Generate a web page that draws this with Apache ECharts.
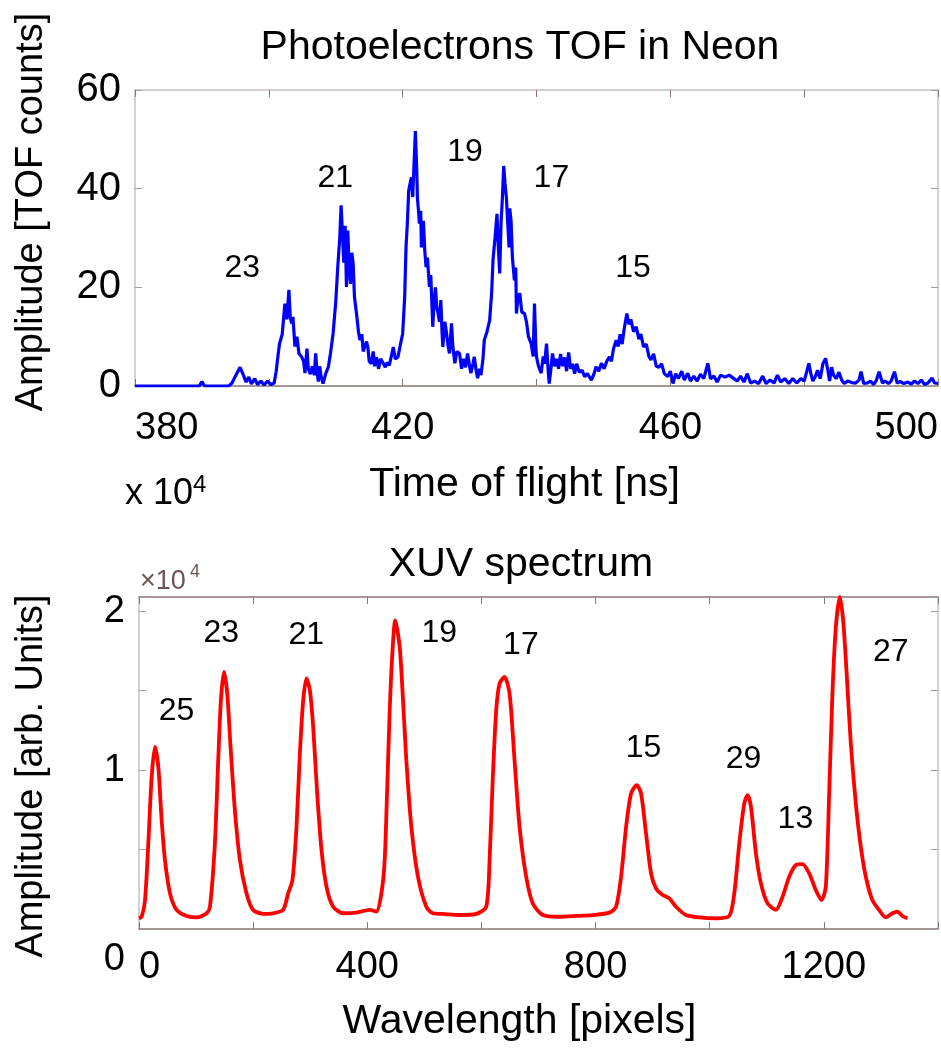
<!DOCTYPE html>
<html>
<head>
<meta charset="utf-8">
<script src="https://cdn.jsdelivr.net/npm/echarts@6/dist/echarts.min.js"></script>
<style>
  html, body { margin: 0; padding: 0; background: #fff; }
  #chart { width: 941px; height: 1050px; }
</style>
</head>
<body>
<div id="chart"></div>
<script>
// ---------- Top panel: photoelectron TOF in neon ----------
const tofTime = [380,384,388,389.6,390,390.4,394,394.5,395,395.7,396.2,396.6,397,397.4,397.9,398.3,398.8,399.3,399.8,400.3,400.8,
  401.1,401.4,401.6,402,402.4,402.7,403,403.2,403.4,403.6,403.9,404.2,404.5,404.9,405.2,405.4,405.7,405.9,406.2,406.5,406.8,407,407.2,407.4,407.6,407.8,408.1,408.5,408.9,409.2,409.6,410,410.3,410.6,
  410.8,411,411.2,411.4,411.6,411.8,412,412.2,412.4,412.6,412.8,413.1,413.4,413.6,413.9,414.1,414.3,414.6,414.8,415,415.3,415.6,415.8,416.1,416.4,416.7,417.1,417.4,417.7,418,418.3,418.6,418.9,419.3,419.6,
  420,420.3,420.5,420.7,420.9,421.1,421.3,421.5,421.7,421.9,422.1,422.2,422.4,422.5,422.7,422.8,423,423.1,423.3,423.5,423.7,424,424.2,424.5,424.7,424.9,425.1,425.3,425.5,425.7,425.9,426,426.3,426.5,426.8,
  427,427.3,427.5,427.8,428.1,428.5,428.8,429.1,429.4,429.7,430,430.2,430.5,430.7,431,431.2,431.5,431.7,432,432.2,432.6,433,433.3,433.5,433.8,434.1,434.3,434.5,434.7,434.9,435.1,435.3,435.5,435.7,435.9,
  436,436.2,436.4,436.7,436.9,437,437.2,437.5,437.8,438.2,438.5,438.8,439,439.2,439.5,439.7,439.9,440,440.3,440.7,441,441.2,441.5,441.7,441.9,442.2,442.4,442.7,443,443.3,443.6,443.9,444.2,444.5,444.8,
  445.1,445.4,445.7,446,446.4,446.8,447.2,447.6,448.2,448.6,448.9,449.3,449.7,450.1,450.5,450.9,451.2,451.5,451.9,452.2,452.5,452.8,453.1,453.5,453.8,454.1,454.5,454.9,455.3,455.6,456,456.4,456.8,
  457.1,457.5,457.9,458.3,458.7,459.1,459.6,460,460.4,460.8,461.2,461.7,462.1,462.6,463,463.5,464,464.5,465,465.6,466,466.5,467,467.5,468.2,468.8,469.5,470,470.5,471,471.5,472,472.6,473.2,473.8,
  474.3,474.9,475.5,476,476.5,477.1,477.7,478.3,478.9,479.5,480,480.4,480.7,481,481.3,481.7,482,482.4,482.8,483.2,483.5,483.8,484.1,484.4,484.8,485.2,485.6,486,486.5,487.1,487.7,488.2,488.5,488.9,
  489.4,489.9,490.4,490.8,491.2,491.7,492.1,492.6,493,493.5,493.9,494.4,494.9,495.5,496,496.5,497,497.5,498,498.5,499.1,499.5,500];
const tofCounts = [0,0,0,0,0.9,0,0,0.6,2.0,3.8,2.2,0.8,1.8,0.4,1.5,0.3,1.0,0.2,1.0,0.3,0.6,
  3.0,6.5,8.6,10.5,16.7,13.5,19.5,14.0,12.7,14.0,8.0,10.0,6.6,5.9,5.0,2.6,7.6,3.5,2.4,4.0,2.2,6.6,3.0,0.9,4.0,2.0,0.5,2.5,3.9,6.5,10.6,17.0,24.1,30.0,
  36.6,31.0,25.0,32.5,20.1,31.5,24.0,20.7,27.0,24.8,18.0,14.7,11.0,9.3,10.5,7.0,6.6,9.0,7.9,5.0,4.5,7.0,4.0,5.9,3.5,5.5,4.6,3.8,4.8,4.2,6.0,7.9,5.5,5.9,8.0,
  10.6,18.0,28.1,33.0,39.6,40.0,42.3,38.3,45.0,51.7,44.0,38.2,35.0,32.9,35.5,28.1,30.5,33.5,27.5,24.1,26.0,20.1,22.5,12.0,17.0,20.0,16.0,14.7,13.0,17.4,10.5,7.9,13.0,11.3,8.0,
  6.6,12.7,8.0,4.6,7.0,6.6,3.5,5.5,3.8,6.6,4.0,2.6,4.5,5.9,3.0,1.6,3.5,2.2,5.5,9.3,11.0,13.3,19.0,25.5,30.0,34.9,28.0,22.8,33.0,38.0,44.6,41.0,38.2,33.0,28.1,
  36.0,33.5,26.0,21.4,24.0,14.7,17.5,18.8,15.0,14.7,13.0,10.0,9.3,8.6,6.0,16.7,8.0,5.9,4.0,2.6,6.0,4.5,8.6,4.0,0.5,4.0,6.6,4.0,5.5,3.5,6.5,4.0,5.8,3.0,6.8,
  3.5,4.5,2.5,4.5,2.8,3.2,1.9,2.5,1.2,2.5,3.9,3.0,4.6,3.5,5.0,5.9,5.0,7.5,9.3,8.0,10.5,8.5,11.5,14.7,12.5,13.5,11.0,12.0,9.5,10.5,7.9,8.5,6.0,
  5.3,6.5,4.0,3.8,4.5,2.5,1.9,3.0,0.5,2.5,1.5,3.0,1.2,2.6,1.0,2.0,1.0,2.4,1.5,4.6,1.5,2.0,0.8,2.2,1.8,2.2,1.5,1.0,2.0,0.8,2.5,0.6,1.0,0.5,2.0,
  0.5,1.2,0.6,2.2,0.8,1.5,0.5,1.5,0.6,1.5,1.0,3.0,4.6,2.5,1.0,2.0,3.2,1.5,4.5,5.6,3.5,1.0,3.8,2.2,1.5,2.8,1.2,0.5,1.0,0.7,0.6,1.2,2.9,0.5,
  0.6,1.0,0.3,1.2,2.9,0.6,1.0,0.5,1.0,2.9,0.6,0.9,0.5,0.8,0.4,1.0,0.5,1.2,0.3,0.6,1.6,0.6,0.5];
const tofXTicks = [380, 420, 460, 500];
const tofYTicks = [0, 20, 40, 60];
const tofLabelText = ['23', '21', '19', '17', '15'];
const tofLabelX = [396.1, 410.0, 429.4, 442.3, 454.5];
const tofLabelY = [23.8, 42.0, 47.3, 42.0, 23.8];

// ---------- Bottom panel: XUV spectrum (amplitude in units of 1e4) ----------
const xuvPixel = [0,4.7,10.5,16.3,22.2,28,33.8,39.7,45.5,54.3,65.9,83.4,101,118.4,
  124.3,133,138.8,143.5,148.8,154.6,160.4,168,176.8,188.4,200,217.6,235,252.6,
  261.3,268.9,276,281.9,287.7,293.5,299.4,305.2,312.2,319.8,328.5,340.2,357.7,381,404.3,416,
  424.7,430.5,434.6,439.3,443.9,449,456.8,462.6,468.4,477.2,488.8,503.4,515,532.6,561.8,590.9,608.4,
  614.3,620,625.9,631.8,640.5,649.3,658,666.8,678.4,690,707.6,736.8,765.9,795,824.3,835.9,
  844.7,853.5,862.2,872.1,879.7,888.4,897.2,905.9,917.6,929.3,940.9,958.4,981.8,1010.9,1034.3,
  1043,1051.8,1060.5,1066.3,1072.2,1081,1089.7,1101.4,1116,
  1127.6,1139.3,1150.9,1162.6,1174.3,1185.9,1195.8,
  1203.4,1209.3,1215,1221,1228,1233.8,1239.6,1247.2,1256,1264.7,1273.5,1285,1296.8,1308.4,1320,1328.8,1337.5,1346.3];
const xuvAmp = [0.067,0.077,0.18,0.539,0.958,1.146,1.021,0.686,0.434,0.224,0.12,0.082,0.073,0.099,
  0.14,0.539,1.063,1.44,1.618,1.482,1.146,0.748,0.434,0.224,0.12,0.095,0.099,0.12,
  0.224,0.308,0.644,1.105,1.44,1.577,1.503,1.272,0.853,0.497,0.266,0.14,0.099,0.103,0.12,0.11,
  0.224,0.434,0.853,1.377,1.734,1.943,1.775,1.44,1.063,0.644,0.329,0.14,0.099,0.095,0.088,0.095,0.14,
  0.434,0.958,1.377,1.545,1.587,1.482,1.063,0.644,0.329,0.161,0.088,0.077,0.082,0.088,0.103,0.14,
  0.329,0.644,0.853,0.906,0.853,0.602,0.35,0.256,0.214,0.193,0.14,0.088,0.073,0.067,0.082,
  0.224,0.539,0.79,0.843,0.77,0.476,0.287,0.161,0.12,
  0.203,0.329,0.403,0.409,0.35,0.245,0.182,
  0.266,0.853,1.482,1.901,2.09,1.943,1.629,1.168,0.79,0.518,0.329,0.182,0.12,0.073,0.099,0.11,0.082,0.067];
const xuvXTicks = [0, 400, 800, 1200];
const xuvYTicks = [0, 1, 2];
const xuvLabelText = ['25', '23', '21', '19', '17', '15', '29', '13', '27'];
const xuvLabelX = [66.5, 145, 294, 527, 670, 885, 1060, 1151, 1318];
const xuvLabelY = [1.365, 1.862, 1.849, 1.862, 1.786, 1.138, 1.063, 0.686, 1.742];

// ---------- build ----------
const FONT = '"Liberation Sans", Arial, Helvetica, sans-serif';
const frameDark = '#8a7777';
const frameLight = '#c9c0c0';
const zip = (a, b) => a.map((v, i) => [v, b[i]]);
const zip3 = (a, b, c) => a.map((v, i) => [v, b[i], c[i]]);

function mainX(grid, min, max, interval, ticks, name, nameGap, namePad, labelMargin) {
  return {
    type: 'value', gridIndex: grid, position: 'bottom', min, max, interval,
    name, nameLocation: 'middle', nameGap,
    nameTextStyle: { fontFamily: FONT, fontSize: 41, color: '#000', padding: namePad },
    axisLine: { show: true, onZero: false, lineStyle: { color: frameDark, width: 1.5 } },
    axisTick: { show: true, inside: true, length: 7, lineStyle: { color: frameDark } },
    splitLine: { show: false },
    axisLabel: {
      fontFamily: FONT, fontSize: 38, color: '#000', margin: labelMargin,
      showMinLabel: true, showMaxLabel: true,
      alignMinLabel: 'left', alignMaxLabel: 'right',
      formatter: v => ticks.indexOf(v) >= 0 ? String(v) : ''
    }
  };
}
function mirrorX(grid, min, max, interval, color) {
  return {
    type: 'value', gridIndex: grid, position: 'top', min, max, interval,
    axisLine: { show: true, onZero: false, lineStyle: { color, width: 1.5 } },
    axisTick: { show: true, inside: true, length: 7, lineStyle: { color: frameDark } },
    axisLabel: { show: false }, splitLine: { show: false }
  };
}
function mainY(grid, min, max, interval, ticks, name, nameGap, namePad, fontSize, rich) {
  return {
    type: 'value', gridIndex: grid, position: 'left', min, max, interval,
    name, nameLocation: 'middle', nameGap, nameRotate: 90,
    nameTextStyle: { fontFamily: FONT, fontSize: 38, color: '#000', padding: namePad },
    axisLine: { show: true, onZero: false, lineStyle: { color: frameLight, width: 1.5 } },
    axisTick: { show: true, inside: true, length: 7, lineStyle: { color: '#a89a9a' } },
    splitLine: { show: false },
    axisLabel: {
      fontFamily: FONT, fontSize, color: '#000', margin: 14,
      showMaxLabel: true,
      formatter: rich ? rich.formatter : (v => ticks.indexOf(v) >= 0 ? String(v) : ''),
      rich: rich ? rich.styles : undefined
    }
  };
}
function mirrorY(grid, min, max, interval) {
  return {
    type: 'value', gridIndex: grid, position: 'right', min, max, interval,
    axisLine: { show: true, onZero: false, lineStyle: { color: frameLight, width: 1.5 } },
    axisTick: { show: true, inside: true, length: 7, lineStyle: { color: '#a89a9a' } },
    axisLabel: { show: false }, splitLine: { show: false }
  };
}
function labelSeries(xi, yi, data) {
  return {
    type: 'scatter', xAxisIndex: xi, yAxisIndex: yi, data, symbolSize: 1,
    itemStyle: { color: 'rgba(0,0,0,0)' }, silent: true, z: 5,
    label: {
      show: true, position: [0, 0], align: 'center', verticalAlign: 'middle',
      formatter: p => p.value[2],
      fontFamily: FONT, fontSize: 32, color: '#000000', opacity: 1,
      textBorderWidth: 0
    }
  };
}

const chart = echarts.init(document.getElementById('chart'), null, { renderer: 'canvas' });
chart.setOption({
  animation: false,
  backgroundColor: '#ffffff',
  grid: [
    { left: 135, top: 90, width: 804, height: 296 },
    { left: 139, top: 597, width: 801, height: 332 }
  ],
  xAxis: [
    mainX(0, 380, 500, 20, tofXTicks, 'Time of flight [ns]', 78, [0, 24, 0, 0], 24),
    mirrorX(0, 380, 500, 20, frameLight),
    mainX(1, 0, 1400, 200, xuvXTicks, 'Wavelength [pixels]', 72, [0, 38, 0, 0], 20),
    mirrorX(1, 0, 1400, 200, frameDark)
  ],
  yAxis: [
    mainY(0, 0, 60, 20, tofYTicks, 'Amplitude [TOF counts]', 84, [0, 0, 0, 52], 40),
    mirrorY(0, 0, 60, 20),
    mainY(1, 0, 2.09, 0.5, xuvYTicks, 'Amplitude [arb. Units]', 88, [0, 26, 0, 0], 38, {
      formatter: v => v === 0 ? '{z|0}' : (xuvYTicks.indexOf(v) >= 0 ? String(v) : ''),
      styles: { z: { fontFamily: FONT, fontSize: 38, color: '#000', padding: [62, 0, 0, 0] } }
    }),
    mirrorY(1, 0, 2.09, 0.5)
  ],
  series: [
    {
      type: 'line', xAxisIndex: 0, yAxisIndex: 0, data: zip(tofTime, tofCounts),
      showSymbol: false, lineStyle: { color: '#0000ff', width: 3.2 }, z: 3
    },
    labelSeries(0, 0, zip3(tofLabelX, tofLabelY, tofLabelText)),
    {
      type: 'line', xAxisIndex: 2, yAxisIndex: 2, data: zip(xuvPixel, xuvAmp),
      showSymbol: false, smooth: 0.25, lineStyle: { color: '#ff0000', width: 3.8 }, z: 3
    },
    labelSeries(2, 2, zip3(xuvLabelX, xuvLabelY, xuvLabelText))
  ],
  graphic: [
    { type: 'text', x: 520, y: 48, style: { text: 'Photoelectrons TOF in Neon', font: '41px ' + FONT, fill: '#000', align: 'center', verticalAlign: 'middle', textAlign: 'center', textVerticalAlign: 'middle' } },
    { type: 'text', x: 521, y: 565, style: { text: 'XUV spectrum', font: '41px ' + FONT, fill: '#000', align: 'center', verticalAlign: 'middle', textAlign: 'center', textVerticalAlign: 'middle' } },
    { type: 'text', x: 125, y: 494, style: { text: 'x 10', font: '36px ' + FONT, fill: '#000', align: 'left', verticalAlign: 'middle', textAlign: 'left', textVerticalAlign: 'middle' } },
    { type: 'text', x: 193, y: 485, style: { text: '4', font: '24px ' + FONT, fill: '#000', align: 'left', verticalAlign: 'middle', textAlign: 'left', textVerticalAlign: 'middle' } },
    { type: 'text', x: 140, y: 582, style: { text: '×10', font: '27px ' + FONT, fill: '#6b5656', align: 'left', verticalAlign: 'middle', textAlign: 'left', textVerticalAlign: 'middle' } },
    { type: 'text', x: 190, y: 572, style: { text: '4', font: '18px ' + FONT, fill: '#6b5656', align: 'left', verticalAlign: 'middle', textAlign: 'left', textVerticalAlign: 'middle' } }
  ]
});
</script>
</body>
</html>
